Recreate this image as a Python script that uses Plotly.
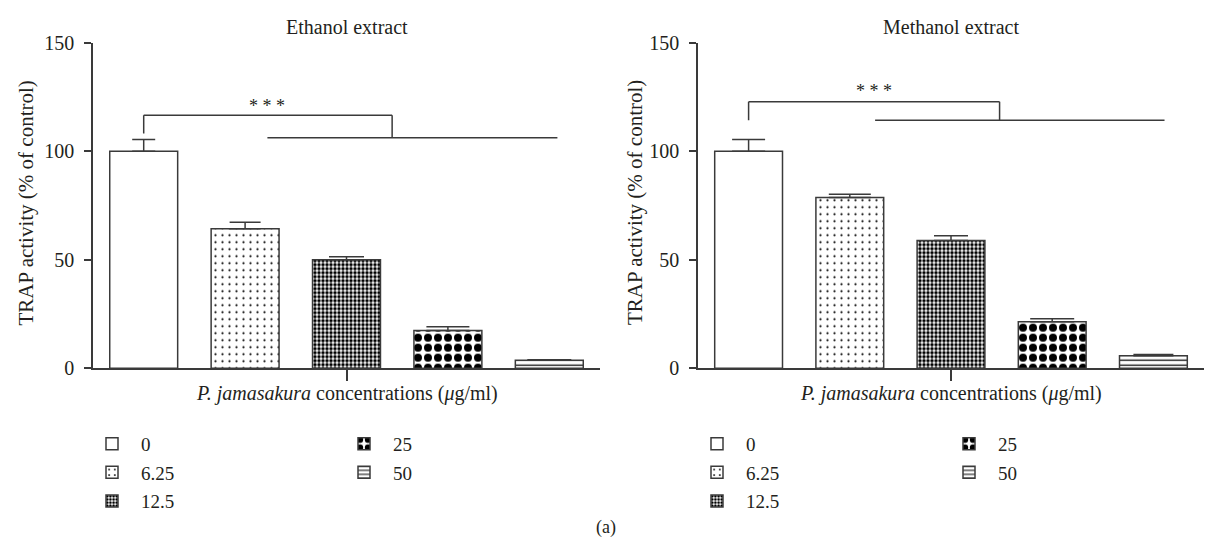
import plotly.graph_objects as go

# ---------------- data ----------------
concentrations = ["0", "6.25", "12.5", "25", "50"]
ethanol_mean = [100.0, 64.2, 50.0, 17.4, 3.6]
ethanol_err = [5.4, 3.0, 1.3, 1.7, 0.3]
methanol_mean = [100.0, 78.6, 58.8, 21.4, 5.7]
methanol_err = [5.4, 1.5, 2.2, 1.4, 0.6]
panel_titles = ["Ethanol extract", "Methanol extract"]
y_ticks = [0, 50, 100, 150]
y_title = "TRAP activity (% of control)"
x_title = "<i>P. jamasakura</i> concentrations (<i>μ</i>g/ml)"
significance_label = "* * *"

# significance bracket geometry (data units)
ethanol_bracket = dict(top=116.5, drop=108.2, low=106.2, xtop=2.45, xlo0=1.22, xlo1=4.08, lx=1.22, ly=121.0)
methanol_bracket = dict(top=122.8, drop=114.3, low=114.3, xtop=2.48, xlo0=1.25, xlo1=4.11, lx=1.24, ly=127.7)

# ---------------- style ----------------
W, H = 1207, 551
FONT = "Liberation Serif"
TXT = "#231f20"
LINE = "#3a3a3a"
patterns = [
    dict(shape="", size=8, solidity=0.2),
    dict(shape=".", size=7, solidity=0.08),
    dict(shape=".", size=4, solidity=0.6),
    dict(shape=".", size=10, solidity=0.5),
    dict(shape="-", size=5, solidity=0.25),
]
eth_caps = [11.5, 15.5, 17.5, 21.5, 22]
meth_caps = [16.5, 21, 17, 22, 20]


def px(x):
    return x / W


def py(y):
    return 1 - y / H


fig = go.Figure()

panels = [
    (ethanol_mean, ethanol_err, eth_caps, "x", "y", ("legend", "legend2")),
    (methanol_mean, methanol_err, meth_caps, "x2", "y2", ("legend3", "legend4")),
]
for mean, err, caps, xa, ya, legs in panels:
    for i, c in enumerate(concentrations):
        pat = patterns[i]
        fig.add_trace(go.Bar(
            x=[i], y=[mean[i]], width=0.67, name=c,
            xaxis=xa, yaxis=ya,
            legend=legs[0] if i < 3 else legs[1],
            legendgroup=xa + c,
            marker=dict(color="white",
                        line=dict(color=LINE, width=1.5),
                        pattern=dict(shape=pat["shape"], fgcolor="black", bgcolor="white",
                                     size=pat["size"], solidity=pat["solidity"], fillmode="replace")),
            error_y=dict(type="data", symmetric=False, array=[err[i]], arrayminus=[0],
                         color=LINE, thickness=1.5, width=caps[i]),
            showlegend=True,
        ))

x_domains = [(px(93), px(600)), (px(698), px(1204))]
y_domain = (py(372), py(33))

axis_common = dict(
    showgrid=False, zeroline=False, showline=True, linecolor=LINE, linewidth=1.5,
    ticks="outside", tickcolor=LINE, tickwidth=1.5,
    tickfont=dict(family=FONT, size=20, color=TXT),
)
fig.update_layout(
    xaxis=dict(domain=x_domains[0], range=[-0.5, 4.5], anchor="y", tickvals=[2], ticktext=[""],
               ticklen=11, **axis_common),
    xaxis2=dict(domain=x_domains[1], range=[-0.5, 4.5], anchor="y2", tickvals=[2], ticktext=[""],
                ticklen=11, **axis_common),
    yaxis=dict(domain=y_domain, range=[0, 150], anchor="x", tickvals=y_ticks, ticklen=7,
               ticklabelstandoff=6, **axis_common),
    yaxis2=dict(domain=y_domain, range=[0, 150], anchor="x2", tickvals=y_ticks, ticklen=7,
                ticklabelstandoff=6, **axis_common),
)

# brackets
for br, xa, ya in [(ethanol_bracket, "x", "y"), (methanol_bracket, "x2", "y2")]:
    segs = [
        (0, br["drop"], 0, br["top"]),
        (0, br["top"], br["xtop"], br["top"]),
        (br["xtop"], br["top"], br["xtop"], br["low"]),
        (br["xlo0"], br["low"], br["xlo1"], br["low"]),
    ]
    for x0, y0, x1, y1 in segs:
        fig.add_shape(type="line", xref=xa, yref=ya, x0=x0, y0=y0, x1=x1, y1=y1,
                      line=dict(color=LINE, width=1.5))
    fig.add_annotation(xref=xa, yref=ya, x=br["lx"], y=br["ly"], text=significance_label,
                       xanchor="center", yanchor="middle",
                       showarrow=False, font=dict(family=FONT, size=18, color=TXT))


def note(x, y, text, size, angle=0):
    fig.add_annotation(xref="paper", yref="paper", x=px(x), y=py(y), text=text,
                       xanchor="center", yanchor="middle", textangle=angle,
                       showarrow=False, font=dict(family=FONT, size=size, color=TXT))


for k, (d0, d1) in enumerate(x_domains):
    cx = (d0 + d1) / 2 * W
    note(cx, 17, panel_titles[k], 20)
    note(cx, 398, x_title, 20)
for xpos in (26.5, 635):
    note(xpos, 200, y_title, 21, -90)
note(606, 538, "(a)", 18)

legend_common = dict(orientation="v", bgcolor="rgba(0,0,0,0)", borderwidth=0,
                     font=dict(family=FONT, size=19, color=TXT), itemwidth=48,
                     tracegroupgap=1, xanchor="left", yanchor="top", itemclick=False)
fig.update_layout(
    legend=dict(x=px(83), y=py(431), **legend_common),
    legend2=dict(x=px(335), y=py(431), **legend_common),
    legend3=dict(x=px(688), y=py(431), **legend_common),
    legend4=dict(x=px(940), y=py(431), **legend_common),
)

fig.update_layout(
    width=W, height=H, margin=dict(l=0, r=0, t=0, b=0),
    paper_bgcolor="white", plot_bgcolor="white",
    barmode="overlay", showlegend=True,
)

fig.write_html("out.html")
